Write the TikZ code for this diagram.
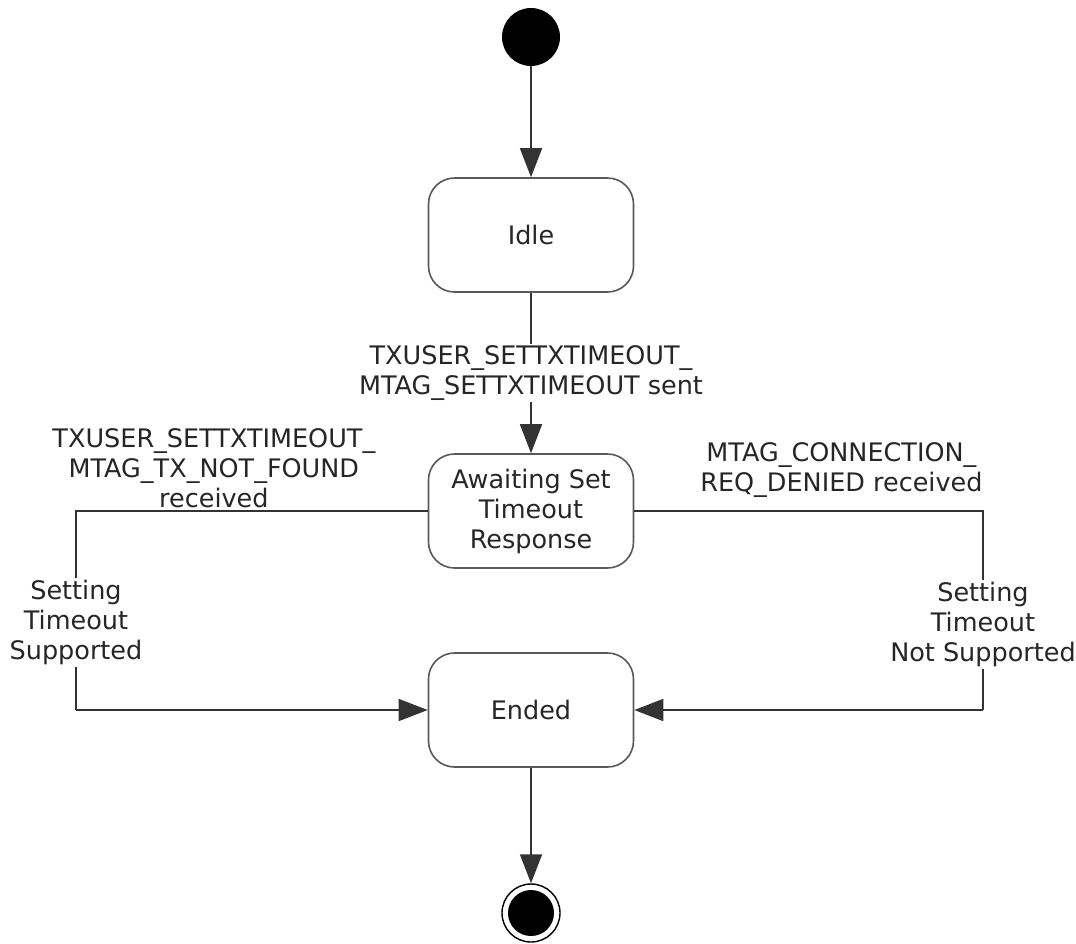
\documentclass[tikz,border=0pt]{standalone}
\usepackage{fontspec}
\setmainfont{DejaVu Sans}
\usetikzlibrary{arrows.meta,positioning}

\begin{document}
\begin{tikzpicture}[
    x=1pt, y=-1pt,
    font=\fontsize{25.5}{30}\selectfont,
    state/.style={rectangle, draw=black!65, line width=1.6pt, minimum width=205pt, minimum height=114pt, align=center, rounded corners=26pt, text=black!85},
    initstate/.style={circle, fill=black, minimum size=58pt, inner sep=0pt},
    endstate/.style={circle, draw=black, fill=white, line width=1.4pt, minimum size=58pt, inner sep=0pt,
        path picture={\fill[black] (path picture bounding box.center) circle (23pt);}},
    arrow/.style={-{Triangle[length=29pt, width=22pt]}, line width=1.6pt, draw=black!80},
    lbl/.style={align=center, text=black!85, inner sep=2pt}
]
\useasboundingbox (0,0) rectangle (1076,943);

% States
\node[initstate] (init) at (531,37) {};
\node[state] (idle) at (531,235) {Idle};
\node[state] (await) at (531,511) {Awaiting Set\\Timeout\\Response};
\node[state] (ended) at (531,710) {Ended};
\node[endstate] (final) at (531,913) {};

% Corners of the side connectors
\coordinate (lcorner) at (ended.west -| 76,0);
\coordinate (rcorner) at (ended.east -| 983,0);

% Transitions
\draw[arrow] (init) -- (idle);
\draw[arrow] (idle) -- node[lbl, fill=white, pos=0.5] {TXUSER\_SETTXTIMEOUT\_\\MTAG\_SETTXTIMEOUT sent} (await);
\draw[line width=1.6pt, black!80] (await.west) -| node[lbl, above, pos=0.304] {TXUSER\_SETTXTIMEOUT\_\\MTAG\_TX\_NOT\_FOUND\\received}
    node[lbl, fill=white, pos=0.78] {Setting\\Timeout\\Supported} (lcorner);
\draw[arrow] (lcorner) -- (ended.west);
\draw[line width=1.6pt, black!80] (await.east) -| node[lbl, above, pos=0.297, yshift=11pt] {MTAG\_CONNECTION\_\\REQ\_DENIED received}
    node[lbl, fill=white, pos=0.785] {Setting\\Timeout\\Not Supported} (rcorner);
\draw[arrow] (rcorner) -- (ended.east);
\draw[arrow] (ended) -- (final);

\end{tikzpicture}
\end{document}
